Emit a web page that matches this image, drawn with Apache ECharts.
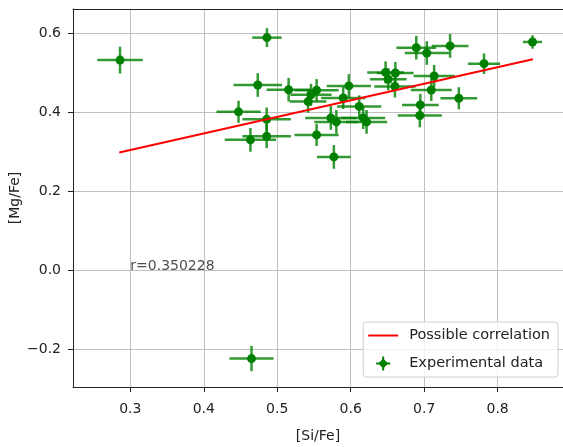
<!DOCTYPE html>
<html>
<head>
<meta charset="utf-8">
<script src="https://cdn.jsdelivr.net/npm/echarts@6/dist/echarts.min.js"></script>
<style>
  html, body { margin: 0; padding: 0; background: #fff; }
  #chart { width: 563px; height: 447px; }
</style>
</head>
<body>
<div id="chart"></div>
<script>
// measured points, [Si/Fe] vs [Mg/Fe]
const siFe = [0.286, 0.486, 0.4735, 0.5155, 0.5536, 0.546, 0.542, 0.4473, 0.4856, 0.4635,
              0.4856, 0.5536, 0.5975, 0.5898, 0.6116, 0.573, 0.5805, 0.617, 0.6216, 0.5771,
              0.6893, 0.7036, 0.7353, 0.8475, 0.7815, 0.6475, 0.6608, 0.6511, 0.6602, 0.7136,
              0.7097, 0.7472, 0.6948, 0.6941, 0.465];
const mgFe = [0.532, 0.589, 0.469, 0.457, 0.456, 0.444, 0.427, 0.401, 0.382, 0.330,
              0.339, 0.3425, 0.4666, 0.436, 0.4147, 0.3856, 0.3755, 0.3856, 0.3755, 0.2868,
              0.5635, 0.550, 0.568, 0.578, 0.523, 0.5008, 0.4995, 0.4835, 0.4653, 0.4918,
              0.4564, 0.4354, 0.4185, 0.3918, -0.224];
const siErr = [0.031, 0.020, 0.033, 0.030, 0.030, 0.028, 0.025, 0.030, 0.033, 0.035,
               0.033, 0.030, 0.030, 0.030, 0.030, 0.035, 0.030, 0.030, 0.028, 0.023,
               0.027, 0.030, 0.025, 0.013, 0.022, 0.025, 0.025, 0.025, 0.028, 0.028,
               0.028, 0.025, 0.025, 0.030, 0.030];
const mgErr = [0.034, 0.024, 0.030, 0.030, 0.028, 0.028, 0.028, 0.028, 0.030, 0.030,
               0.030, 0.028, 0.030, 0.028, 0.028, 0.030, 0.030, 0.028, 0.030, 0.030,
               0.030, 0.030, 0.030, 0.017, 0.026, 0.028, 0.028, 0.028, 0.028, 0.028,
               0.028, 0.028, 0.028, 0.030, 0.032];

// fitted line end points
const fitX = [0.285, 0.848];
const fitY = [0.298, 0.534];

const xTicks = [0.3, 0.4, 0.5, 0.6, 0.7, 0.8];
const yTicks = [-0.2, 0.0, 0.2, 0.4, 0.6];

const rText = 'r=0.350228';
const rPos = [0.3, 0.0];

const font = 'DejaVu Sans';
const green = '#008000';
const errColor = 'rgba(0,128,0,0.8)';
const ink = '#222';

const points = siFe.map((x, i) => [x, mgFe[i], siErr[i], mgErr[i]]);
const fitLine = fitX.map((x, i) => [x, fitY[i]]);

function fmt(v) {
    return v.toFixed(1).replace('-', '\u2212');
}

function renderErr(params, api) {
    const x = api.value(0), y = api.value(1);
    const ex = api.value(2), ey = api.value(3);
    const l = api.coord([x - ex, y]), r = api.coord([x + ex, y]);
    const t = api.coord([x, y + ey]), b = api.coord([x, y - ey]);
    const style = { stroke: errColor, lineWidth: 2.5 };
    return {
        type: 'group',
        children: [
            { type: 'line', shape: { x1: l[0], y1: l[1], x2: r[0], y2: r[1] }, style: style },
            { type: 'line', shape: { x1: t[0], y1: t[1], x2: b[0], y2: b[1] }, style: style }
        ]
    };
}

let myChart = echarts.init(document.getElementById('chart'));
let option = {
    backgroundColor: '#fff',
    animation: false,
    textStyle: { fontFamily: font },
    grid: {
        left: 73,
        top: 9,
        width: 490,
        height: 378,
        outerBoundsMode: 'none'
    },
    // y axis title, rotated like matplotlib's ylabel
    graphic: [{
        type: 'text',
        x: 15,
        y: 198,
        rotation: Math.PI / 2,
        style: {
            text: '[Mg/Fe]',
            fontFamily: font,
            fontSize: 14,
            fill: ink,
            align: 'center',
            verticalAlign: 'middle'
        }
    }],
    legend: {
        orient: 'vertical',
        right: 5,
        top: 322,
        padding: [6, 8, 6, 5],
        itemWidth: 30,
        itemHeight: 14,
        itemGap: 13,
        borderColor: '#d0d0d0',
        borderWidth: 1,
        borderRadius: 3,
        backgroundColor: 'rgba(255,255,255,0.8)',
        textStyle: { fontFamily: font, fontSize: 14.5, color: ink, padding: [0, 0, 0, 6] },
        data: [
            {
                name: 'Possible correlation',
                icon: 'path://M0,6H30V8H0Z',
                itemStyle: { color: '#ff0000' }
            },
            {
                name: 'Experimental data',
                icon: 'path://M6,0H8V3L11,6H14V8H11L8,11V14H6V11L3,8H0V6H3L6,3Z',
                itemStyle: { color: green }
            }
        ]
    },
    xAxis: [{
        type: 'value',
        min: 0.222,
        max: 0.889,
        name: '[Si/Fe]',
        nameLocation: 'middle',
        nameGap: 42,
        nameTextStyle: { fontFamily: font, fontSize: 14, color: ink },
        axisLine: { show: true, onZero: false, lineStyle: { color: ink } },
        axisTick: { show: true, length: 5, customValues: xTicks, lineStyle: { color: ink } },
        axisLabel: { customValues: xTicks, formatter: fmt, margin: 15, fontSize: 14, color: ink, fontFamily: font },
        splitLine: { show: true, lineStyle: { color: '#c0c0c0', width: 1 } }
    }, {
        // top spine only
        type: 'value',
        position: 'top',
        min: 0.222,
        max: 0.889,
        axisLine: { show: true, onZero: false, lineStyle: { color: ink } },
        axisTick: { show: false },
        axisLabel: { show: false },
        splitLine: { show: false }
    }],
    yAxis: {
        type: 'value',
        min: -0.296,
        max: 0.6615,
        axisLine: { show: true, onZero: false, lineStyle: { color: ink } },
        axisTick: { show: true, length: 5, customValues: yTicks, lineStyle: { color: ink } },
        axisLabel: { customValues: yTicks, formatter: fmt, margin: 12, fontSize: 14, color: ink, fontFamily: font },
        splitLine: { show: true, lineStyle: { color: '#c0c0c0', width: 1 } }
    },
    series: [
        {
            name: 'Experimental data',
            type: 'custom',
            renderItem: renderErr,
            data: points,
            encode: { x: 0, y: 1 },
            itemStyle: { color: green },
            z: 2
        },
        {
            name: 'Experimental data',
            type: 'scatter',
            data: points,
            symbol: 'circle',
            symbolSize: 9,
            itemStyle: { color: green, opacity: 1 },
            z: 3
        },
        {
            name: 'Possible correlation',
            type: 'line',
            data: fitLine,
            symbol: 'none',
            lineStyle: { color: '#ff0000', width: 2 },
            itemStyle: { color: '#ff0000' },
            z: 4
        },
        {
            name: 'r',
            type: 'scatter',
            data: [rPos],
            symbolSize: 0,
            silent: true,
            label: {
                show: true,
                position: 'right',
                distance: 0,
                align: 'left',
                verticalAlign: 'bottom',
                offset: [0, 3],
                formatter: rText,
                fontFamily: font,
                fontSize: 14,
                color: ink
            },
            z: 5
        }
    ]
};
myChart.setOption(option);
</script>
</body>
</html>
